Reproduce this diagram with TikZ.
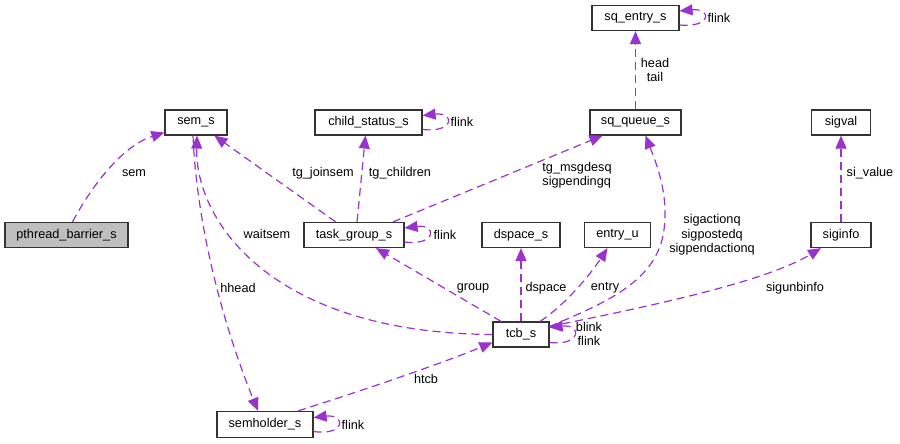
\documentclass[tikz,border=0pt]{standalone}
\usepackage{fontspec}
\setmainfont{Liberation Sans}
\usetikzlibrary{positioning,arrows.meta}
\definecolor{linkpurple}{HTML}{9A32CD}
\definecolor{boxgray}{HTML}{BFBFBF}

\begin{document}
\begin{tikzpicture}[x=1pt,y=-1pt,
		cls/.style={draw=black!80, line width=1.2pt, minimum height=25pt, inner sep=0pt, font=\fontsize{12.7}{14.5}\selectfont},
		link/.style={draw=linkpurple, line width=1.2pt, dash pattern=on 8pt off 5pt, -{Triangle[length=13pt,width=11pt,fill=linkpurple]}},
		lbl/.style={font=\fontsize{12.7}{14.5}\selectfont, inner sep=0pt, align=center}]
				\useasboundingbox (0,0) rectangle (900,444);
				%%%nodes
				%top row
				\node[cls, minimum width=87pt] at (635.5,18) (entry){sq\_entry\_s};
				%second row
				\node[cls, minimum width=62pt] at (196,122.5) (sem){sem\_s};
				\node[cls, minimum width=107pt] at (368.5,122.5) (child){child\_status\_s};
				\node[cls, minimum width=91pt] at (635.5,122.5) (queue){sq\_queue\_s};
				\node[cls, minimum width=59pt] at (841,122.5) (sigval){sigval};
				%third row
				\node[cls, fill=boxgray, minimum width=123pt] at (66.5,235) (barrier){pthread\_barrier\_s};
				\node[cls, minimum width=100pt] at (354,235) (group){task\_group\_s};
				\node[cls, minimum width=78pt] at (521,235) (dspace){dspace\_s};
				\node[cls, minimum width=66pt] at (617.5,235) (entryu){entry\_u};
				\node[cls, minimum width=60pt] at (841,235) (siginfo){siginfo};
				%fourth row
				\node[cls, minimum width=56pt] at (521,334.5) (tcb){tcb\_s};
				%bottom row
				\node[cls, minimum width=96pt, minimum height=26pt] at (265,424.5) (holder){semholder\_s};
				%%%labels
				\node[lbl] at (134,173) (lsem){sem};
				\node[lbl] at (323,173) (ljoinsem){tg\_joinsem};
				\node[lbl] at (400,173) (lchildren){tg\_children};
				\node[lbl] at (462,122) (lchildflink){flink};
				\node[lbl] at (445,235) (lgroupflink){flink};
				\node[lbl, align=left] at (577,175) (lmsgdesq){tg\_msgdesq\\sigpendingq};
				\node[lbl] at (655,70) (lhead){head\\tail};
				\node[lbl] at (719,18) (lentryflink){flink};
				\node[lbl] at (712,235) (lsigq){sigactionq\\sigpostedq\\sigpendactionq};
				\node[lbl] at (870,173) (lsivalue){si\_value};
				\node[lbl] at (795,288) (lsigunb){sigunbinfo};
				\node[lbl] at (473,288) (lgroup){group};
				\node[lbl] at (546,288) (ldspace){dspace};
				\node[lbl] at (605,288) (lentry){entry};
				\node[lbl] at (589,334) (ltcbflink){blink\\flink};
				\node[lbl] at (267,234) (lwaitsem){waitsem};
				\node[lbl] at (238,288) (lhhead){hhead};
				\node[lbl] at (426,379) (lhtcb){htcb};
				\node[lbl] at (353,425) (lholderflink){flink};
				%%%links
				%to sem_s
				\draw[link] ([xshift=6pt]barrier.north) .. controls (95,180) and (125,145) .. (sem);
				\draw[link] (group) -- (sem);
				\draw[link] (tcb.west) .. controls (270,333) and (195,220) .. ([xshift=1pt]sem.south);
				\draw[link] ([xshift=-3pt]sem.south) .. controls (197,230) and (225,330) .. ([xshift=-7pt]holder.north);
				%from task_group_s
				\draw[link] ([xshift=3pt]group.north) -- ([xshift=-3pt]child.south);
				\draw[link] ([xshift=39pt]group.north) -- ([xshift=-33pt]queue.south);
				%queue and signals
				\draw[link] (queue) -- (entry);
				\draw[link] (siginfo) -- (sigval);
				%from tcb_s
				\draw[link] ([yshift=8pt]tcb.east) .. controls (600,305) and (650,285) .. (662,240) .. controls (672,200) and (655,160) .. ([xshift=10pt]queue.south);
				\draw[link] ([yshift=8pt]tcb.east) .. controls (620,312) and (760,285) .. ([xshift=-20pt]siginfo.south);
				\draw[link] ([xshift=-20pt]tcb.north) -- ([xshift=22pt]group.south);
				\draw[link] (tcb) -- (dspace);
				\draw[link] ([xshift=19pt]tcb.north) .. controls (565,305) and (590,275) .. ([xshift=-10pt]entryu.south);
				\draw[link] ([xshift=33pt]holder.north) .. controls (380,385) and (450,360) .. ([yshift=-8pt]tcb.west);
				%self links
				\draw[link] ([yshift=-7pt]child.east) .. controls (455,133) and (455,112) .. ([yshift=7pt]child.east);
				\draw[link] ([yshift=-7pt]group.east) .. controls (437,246) and (437,224) .. ([yshift=7pt]group.east);
				\draw[link] ([yshift=-7pt]entry.east) .. controls (712,28) and (712,8) .. ([yshift=7pt]entry.east);
				\draw[link] ([yshift=-8pt]tcb.east) .. controls (582,346) and (582,324) .. ([yshift=7pt]tcb.east);
				\draw[link] ([yshift=-7pt]holder.east) .. controls (346,436) and (346,414) .. ([yshift=7pt]holder.east);
			\end{tikzpicture}
\end{document}
